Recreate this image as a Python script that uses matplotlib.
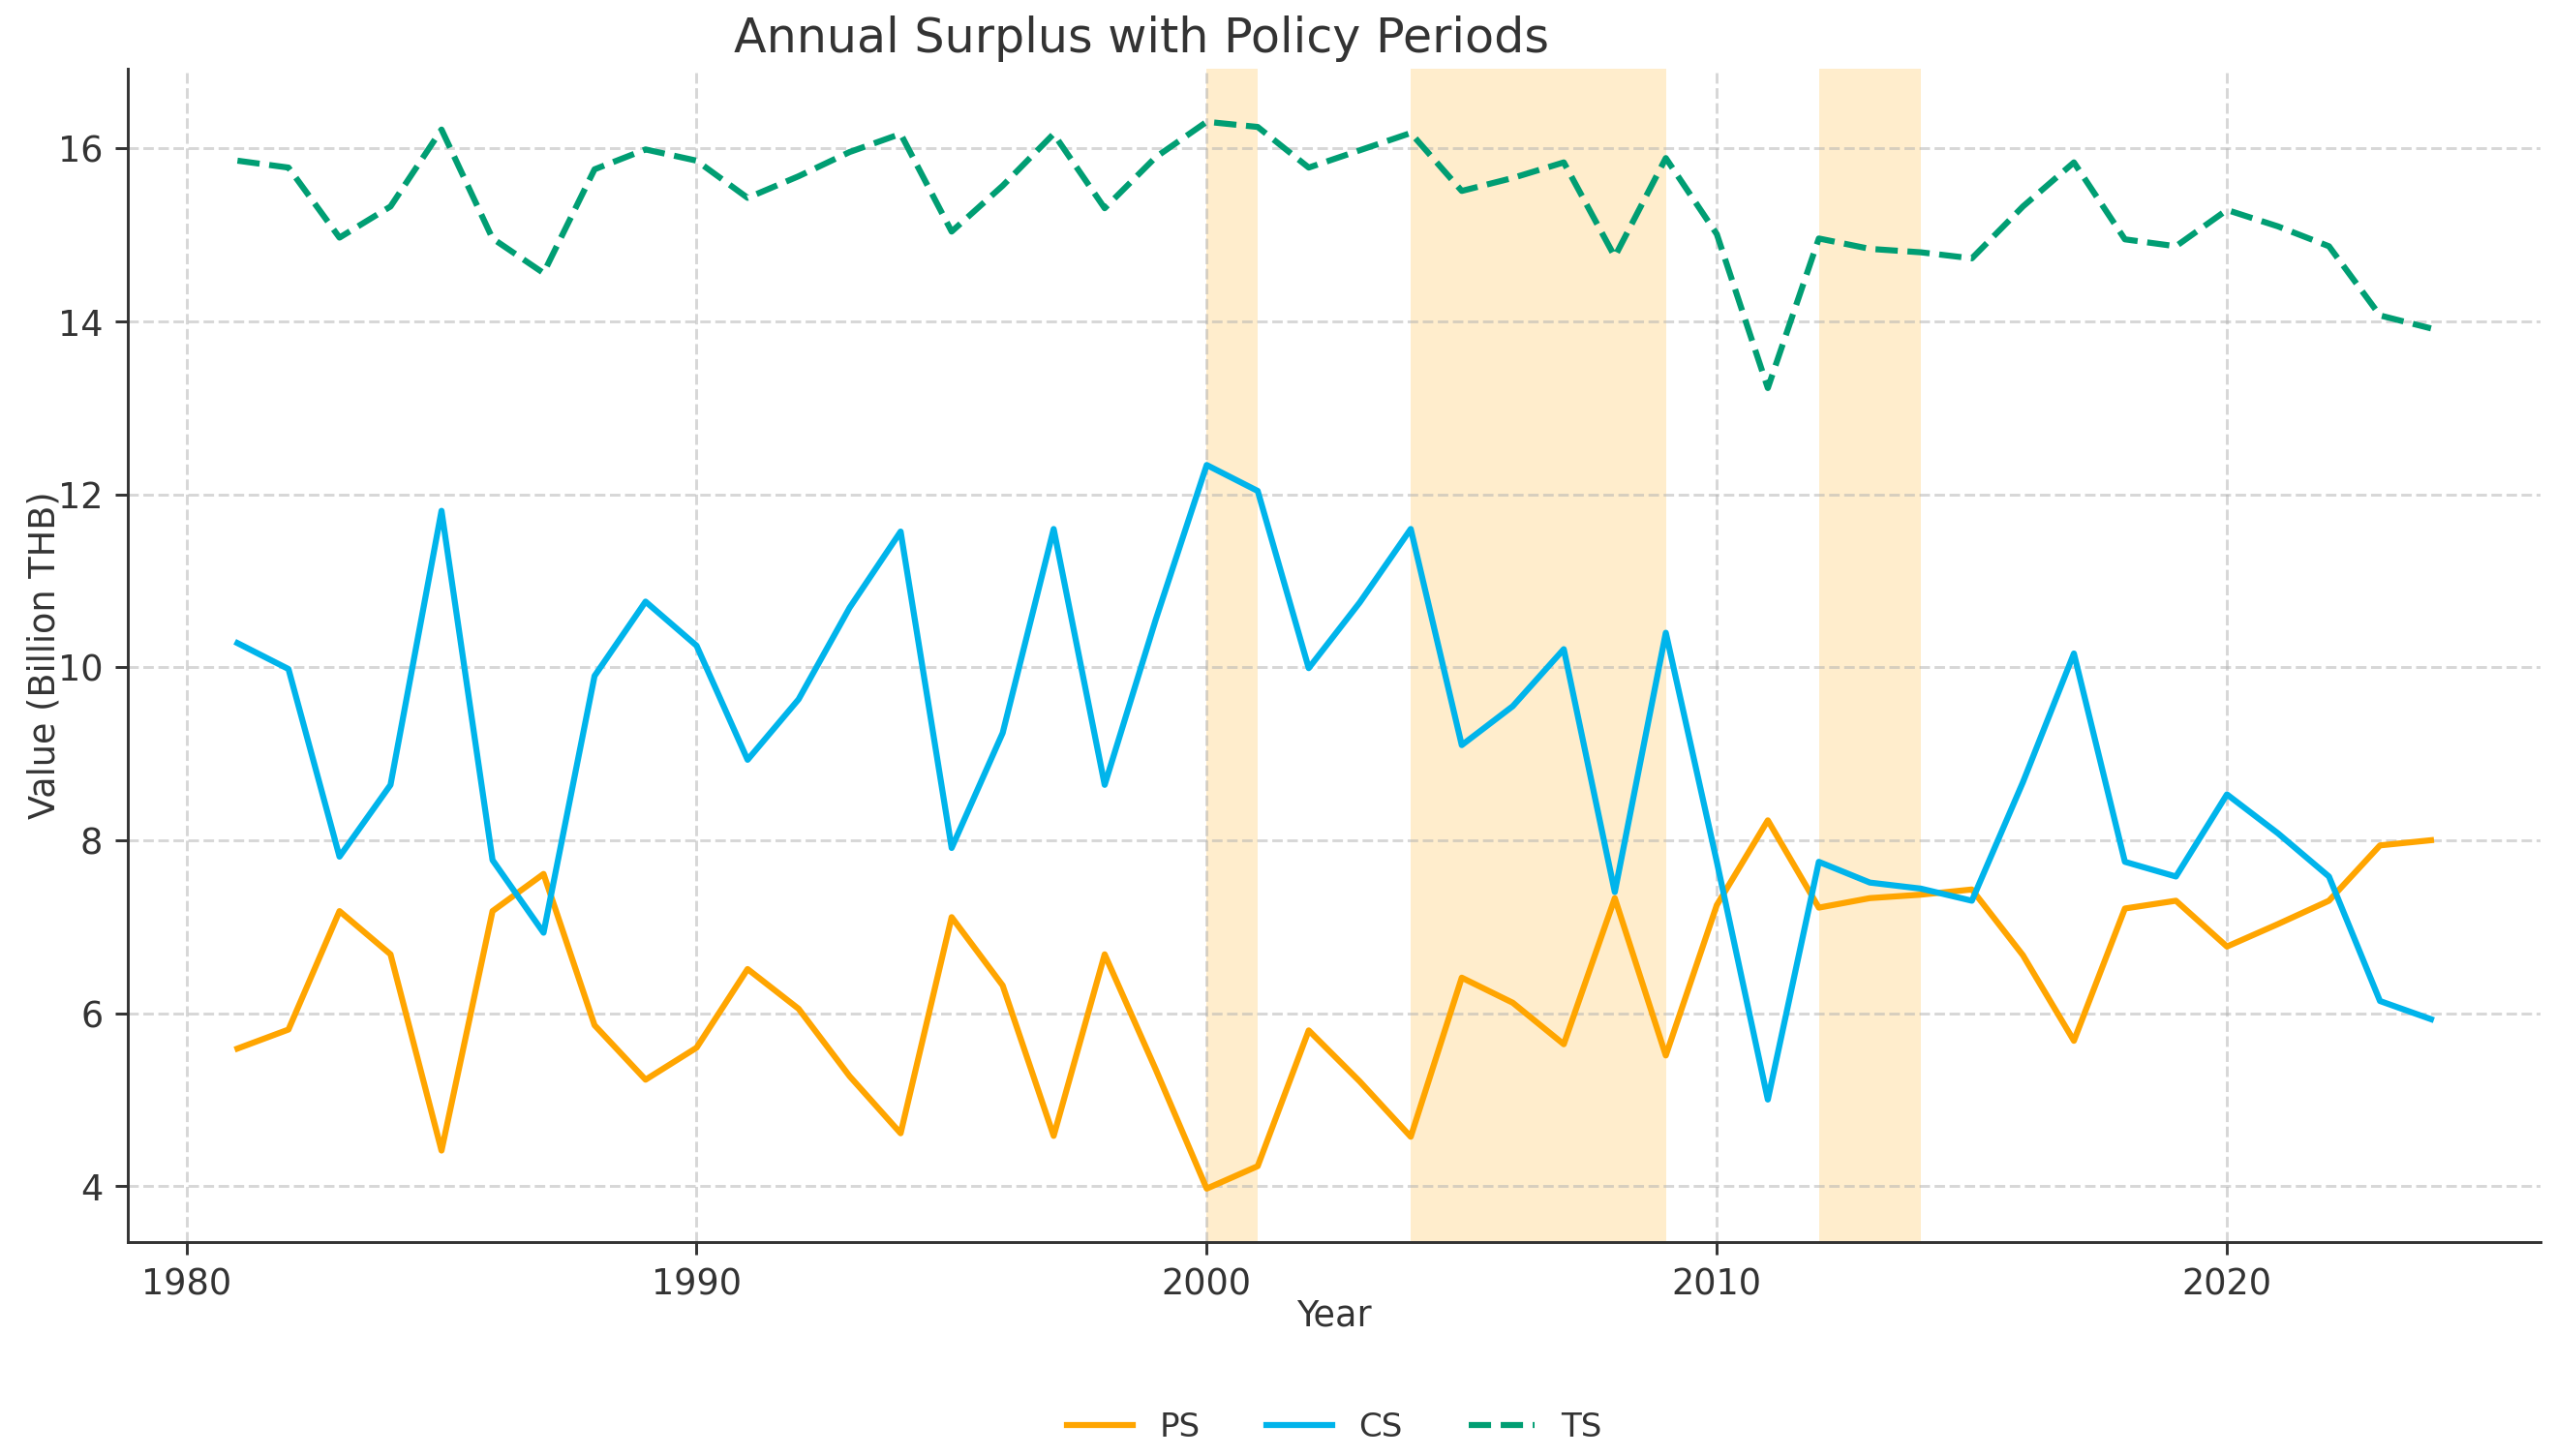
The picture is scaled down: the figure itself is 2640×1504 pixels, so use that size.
import matplotlib
matplotlib.use("Agg")
import matplotlib.pyplot as plt

# data
years = list(range(1981, 2025))

ps = [5.59, 5.81, 7.18, 6.68, 4.41, 7.18, 7.61, 5.86, 5.23, 5.60,
      6.51, 6.05, 5.27, 4.61, 7.11, 6.32, 4.58, 6.68, 5.35, 3.97,
      4.23, 5.80, 5.21, 4.57, 6.41, 6.12, 5.64, 7.33, 5.51, 7.25,
      8.23, 7.22, 7.33, 7.37, 7.43, 6.67, 5.68, 7.21, 7.30, 6.77,
      7.03, 7.30, 7.94, 8.00]

cs = [10.28, 9.98, 7.81, 8.64, 11.81, 7.77, 6.93, 9.90, 10.76, 10.25,
      8.93, 9.63, 10.69, 11.57, 7.91, 9.24, 11.60, 8.64, 10.55, 12.34,
      12.04, 9.99, 10.75, 11.60, 9.10, 9.55, 10.21, 7.40, 10.40, 7.75,
      5.00, 7.75, 7.51, 7.44, 7.30, 8.67, 10.16, 7.75, 7.58, 8.53,
      8.08, 7.58, 6.14, 5.93]

ts = [15.86, 15.78, 14.97, 15.33, 16.22, 14.96, 14.56, 15.76, 15.99, 15.86,
      15.43, 15.68, 15.96, 16.17, 15.04, 15.57, 16.17, 15.31, 15.90, 16.31,
      16.25, 15.78, 15.98, 16.18, 15.51, 15.66, 15.84, 14.75, 15.89, 15.01,
      13.23, 14.96, 14.84, 14.80, 14.73, 15.33, 15.84, 14.95, 14.87, 15.29,
      15.10, 14.87, 14.07, 13.92]

# policy periods (start, end)
policy_periods = [(2000, 2001), (2004, 2009), (2012, 2014)]

text_color = "#333333"
plt.rcParams["text.color"] = text_color
plt.rcParams["axes.labelcolor"] = text_color
plt.rcParams["xtick.color"] = text_color
plt.rcParams["ytick.color"] = text_color

fig, ax = plt.subplots(figsize=(10, 5.697), dpi=264)
fig.subplots_adjust(left=0.050, right=0.994, top=0.953, bottom=0.147)

for start, end in policy_periods:
    ax.axvspan(start, end, color="orange", alpha=0.2, linewidth=0)

ax.plot(years, ps, color="#FFA500", linewidth=1.7, label="PS")
ax.plot(years, cs, color="#00B4EB", linewidth=1.7, label="CS")
ax.plot(years, ts, color="#009E73", linewidth=1.7, linestyle="--", label="TS")

ax.set_title("Annual Surplus with Policy Periods", fontsize=13.4, x=0.42, pad=4.5)
ax.set_xlabel("Year", labelpad=-1.5)
ax.set_ylabel("Value (Billion THB)", fontsize=10, labelpad=-1.2)

ax.grid(True, linestyle="--", alpha=0.5)
ax.spines["top"].set_visible(False)
ax.spines["right"].set_visible(False)
ax.spines["left"].set_color(text_color)
ax.spines["bottom"].set_color(text_color)

ax.legend(loc="center", bbox_to_anchor=(0.5, -0.158), ncol=3, frameon=False,
          fontsize=9.3)

fig.savefig("out.png", dpi=264)
